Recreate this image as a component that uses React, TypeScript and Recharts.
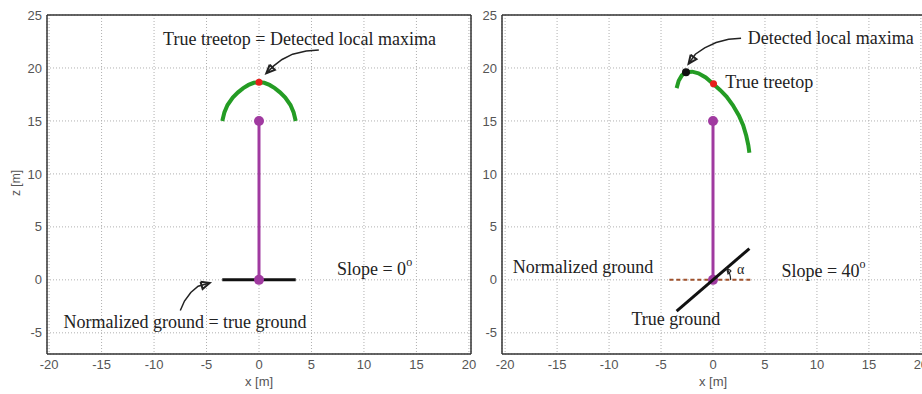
import React from 'react';
import {
  ScatterChart,
  Scatter,
  XAxis,
  YAxis,
  CartesianGrid,
  ReferenceLine,
  ReferenceDot,
} from 'recharts';

const xTicks = [-20, -15, -10, -5, 0, 5, 10, 15, 20];
const zTicks = [-5, 0, 5, 10, 15, 20, 25];

// left panel: slope = 0
const leftCrown = [
  { x: -3.5, z: 15.0 }, { x: -3.3, z: 15.8 }, { x: -3.0, z: 16.5 }, { x: -2.5, z: 17.2 },
  { x: -2.0, z: 17.7 }, { x: -1.5, z: 18.1 }, { x: -1.0, z: 18.4 }, { x: -0.5, z: 18.6 },
  { x: 0, z: 18.65 }, { x: 0.5, z: 18.6 }, { x: 1.0, z: 18.4 }, { x: 1.5, z: 18.1 },
  { x: 2.0, z: 17.7 }, { x: 2.5, z: 17.2 }, { x: 3.0, z: 16.5 }, { x: 3.3, z: 15.8 },
  { x: 3.5, z: 15.0 },
];
const leftStem = [{ x: 0, z: 0 }, { x: 0, z: 15 }];
const leftGround = [{ x: -3.5, z: 0 }, { x: 3.5, z: 0 }];
const leftTreetop = [{ x: 0, z: 18.65 }];
const leftArrowTop = [
  { x: 5.7, z: 21.7 }, { x: 4.5, z: 21.6 }, { x: 3.2, z: 21.3 }, { x: 2.2, z: 20.8 },
  { x: 1.4, z: 20.2 }, { x: 0.7, z: 19.5 },
];
const leftArrowTopHead = [
  { x: 1.02, z: 20.31 }, { x: 0.7, z: 19.5 }, { x: 1.51, z: 19.82 }, { x: 1.02, z: 20.31 },
];
const leftArrowGround = [
  { x: -7.5, z: -2.9 }, { x: -7.1, z: -2.0 }, { x: -6.5, z: -1.2 }, { x: -5.8, z: -0.6 },
  { x: -4.7, z: -0.3 },
];
const leftArrowGroundHead = [
  { x: -5.57, z: -0.19 }, { x: -4.7, z: -0.3 }, { x: -5.37, z: -0.86 }, { x: -5.57, z: -0.19 },
];
const leftLabels = [
  { x: 3.86, z: 22.7, text: 'True treetop = Detected local maxima', anchor: 'middle' },
  { x: -7.05, z: -4.0, text: 'Normalized ground = true ground', anchor: 'middle' },
  { x: 7.43, z: 1.0, text: 'Slope = 0', sup: 'o', anchor: 'start' },
];

// right panel: slope = 40
const rightCrown = [
  { x: -3.5, z: 18.1 }, { x: -3.3, z: 18.8 }, { x: -3.0, z: 19.3 }, { x: -2.6, z: 19.6 },
  { x: -2.0, z: 19.65 }, { x: -1.4, z: 19.5 }, { x: -0.7, z: 19.1 }, { x: 0, z: 18.5 },
  { x: 0.7, z: 17.9 }, { x: 1.3, z: 17.3 }, { x: 1.9, z: 16.5 }, { x: 2.5, z: 15.5 },
  { x: 2.9, z: 14.6 }, { x: 3.2, z: 13.6 }, { x: 3.4, z: 12.7 }, { x: 3.5, z: 12.0 },
];
const rightStem = [{ x: 0, z: 0 }, { x: 0, z: 15 }];
const rightTrueGround = [{ x: -3.5, z: -2.95 }, { x: 3.5, z: 2.95 }];
const rightNormGround = [{ x: -4.2, z: 0 }, { x: 3.8, z: 0 }];
const rightTreetop = [{ x: 0.05, z: 18.5 }];
const rightLocalMax = [{ x: -2.6, z: 19.6 }];
const rightArrow = [
  { x: 2.7, z: 22.8 }, { x: 1.5, z: 22.7 }, { x: 0.3, z: 22.4 }, { x: -0.8, z: 21.9 },
  { x: -1.7, z: 21.3 }, { x: -2.35, z: 20.4 },
];
const rightArrowHead = [
  { x: -2.15, z: 21.25 }, { x: -2.35, z: 20.4 }, { x: -1.59, z: 20.83 }, { x: -2.15, z: 21.25 },
];
const alphaArc = [
  { x: 1.7, z: 0 }, { x: 1.67, z: 0.3 }, { x: 1.6, z: 0.58 }, { x: 1.47, z: 0.85 },
  { x: 1.3, z: 1.09 },
];
const alphaArcHead = [
  { x: 1.75, z: 0.85 }, { x: 1.3, z: 1.09 }, { x: 1.45, z: 0.56 }, { x: 1.75, z: 0.85 },
];
const rightLabels = [
  { x: 3.34, z: 22.8, text: 'Detected local maxima', anchor: 'start' },
  { x: 1.19, z: 18.7, text: 'True treetop', anchor: 'start' },
  { x: -19.26, z: 1.24, text: 'Normalized ground', anchor: 'start' },
  { x: -7.85, z: -3.7, text: 'True ground', anchor: 'start' },
  { x: 6.58, z: 0.86, text: 'Slope = 40', sup: 'o', anchor: 'start' },
  { x: 2.66, z: 0.93, text: 'α', anchor: 'middle', size: 14 },
];

const SERIF = '"Liberation Serif", "Times New Roman", serif';
const SANS = '"Liberation Sans", Arial, sans-serif';
const GREEN = '#249c24';
const PURPLE = '#a03aa0';

const noDot = () => <g />;
const lineSeries = (data, stroke, width, key, dash?) => (
  <Scatter
    key={key}
    data={data}
    line={{ stroke, strokeWidth: width, strokeDasharray: dash }}
    lineType="joint"
    shape={noDot}
    isAnimationActive={false}
  />
);
const dotSeries = (data, fill, r, key) => (
  <Scatter
    key={key}
    data={data}
    shape={(p) => <circle cx={p.cx} cy={p.cy} r={r} fill={fill} />}
    isAnimationActive={false}
  />
);

const Panel = ({ domain, rightMargin, showZLabel, series, labels }) => (
  <ScatterChart
    width={480}
    height={394}
    margin={{ top: 15, right: rightMargin, bottom: 0, left: 0 }}
  >
    <CartesianGrid stroke="#b0b0b0" strokeDasharray="1 2" />
    <XAxis
      type="number"
      dataKey="x"
      domain={domain}
      ticks={xTicks}
      allowDataOverflow
      height={40}
      tickSize={0}
      tickMargin={6}
      stroke="#333"
      strokeWidth={1.5}
      tick={{ fill: '#555', fontSize: 13, fontFamily: SANS }}
      label={{
        content: ({ viewBox }) => (
          <text
            x={viewBox.x + viewBox.width / 2}
            y={386}
            textAnchor="middle"
            fill="#555"
            fontSize={13}
            fontFamily={SANS}
          >
            x [m]
          </text>
        ),
      }}
    />
    <YAxis
      type="number"
      dataKey="z"
      domain={[-7, 25]}
      ticks={zTicks}
      allowDataOverflow
      width={47}
      tickSize={0}
      tickMargin={5}
      stroke="#333"
      strokeWidth={1.5}
      tick={{ fill: '#555', fontSize: 13, fontFamily: SANS }}
      label={
        showZLabel
          ? {
              content: ({ viewBox }) => (
                <text
                  x={16}
                  y={183}
                  transform="rotate(-90, 16, 183)"
                  textAnchor="middle"
                  dominantBaseline="central"
                  fill="#555"
                  fontSize={12}
                  fontFamily={SANS}
                >
                  z [m]
                </text>
              ),
            }
          : undefined
      }
    />
    <ReferenceLine y={25} stroke="#333" strokeWidth={1.5} />
    <ReferenceLine x={domain[1]} stroke="#333" strokeWidth={1.5} />
    {series}
    {labels.map((l, i) => (
      <ReferenceDot
        key={`lab-${i}`}
        x={l.x}
        y={l.z}
        r={0}
        shape={(p) => (
          <text
            x={p.cx}
            y={p.cy}
            textAnchor={l.anchor}
            dominantBaseline="central"
            fill="#222"
            fontSize={l.size || 18}
            fontFamily={SERIF}
          >
            {l.text}
            {l.sup ? (
              <tspan dy={-7} fontSize={12}>
                {l.sup}
              </tspan>
            ) : null}
          </text>
        )}
      />
    ))}
  </ScatterChart>
);

const leftSeries = [
  lineSeries(leftGround, '#111', 3, 'lg'),
  lineSeries(leftStem, PURPLE, 3, 'ls'),
  dotSeries(leftStem, PURPLE, 5, 'lsd'),
  lineSeries(leftCrown, GREEN, 4, 'lc'),
  dotSeries(leftTreetop, '#e8201c', 3.5, 'lt'),
  lineSeries(leftArrowTop, '#222', 1.5, 'la1'),
  lineSeries(leftArrowTopHead, '#222', 2, 'la1h'),
  lineSeries(leftArrowGround, '#222', 1.5, 'la2'),
  lineSeries(leftArrowGroundHead, '#222', 2, 'la2h'),
];

const rightSeries = [
  lineSeries(rightNormGround, '#a0522d', 2, 'rn', '4 3'),
  lineSeries(rightStem, PURPLE, 3, 'rs'),
  dotSeries(rightStem, PURPLE, 5, 'rsd'),
  lineSeries(rightTrueGround, '#111', 3, 'rg'),
  lineSeries(rightCrown, GREEN, 4, 'rc'),
  dotSeries(rightTreetop, '#e8201c', 3.5, 'rt'),
  dotSeries(rightLocalMax, '#111', 4, 'rm'),
  lineSeries(rightArrow, '#222', 1.5, 'ra'),
  lineSeries(rightArrowHead, '#222', 2, 'rah'),
  lineSeries(alphaArc, '#222', 1.2, 'aa'),
  lineSeries(alphaArcHead, '#222', 1.2, 'aah'),
];

export default function App() {
  return (
    <div
      style={{
        position: 'absolute',
        left: 0,
        top: 0,
        width: 922,
        height: 394,
        overflow: 'hidden',
        background: '#fff',
      }}
    >
      <div style={{ position: 'absolute', left: 0, top: 0 }}>
        <Panel
          domain={[-20.2, 20.2]}
          rightMargin={9}
          showZLabel
          series={leftSeries}
          labels={leftLabels}
        />
      </div>
      <div style={{ position: 'absolute', left: 455, top: 0 }}>
        <Panel
          domain={[-20.3, 20.3]}
          rightMargin={11}
          showZLabel={false}
          series={rightSeries}
          labels={rightLabels}
        />
      </div>
    </div>
  );
}
